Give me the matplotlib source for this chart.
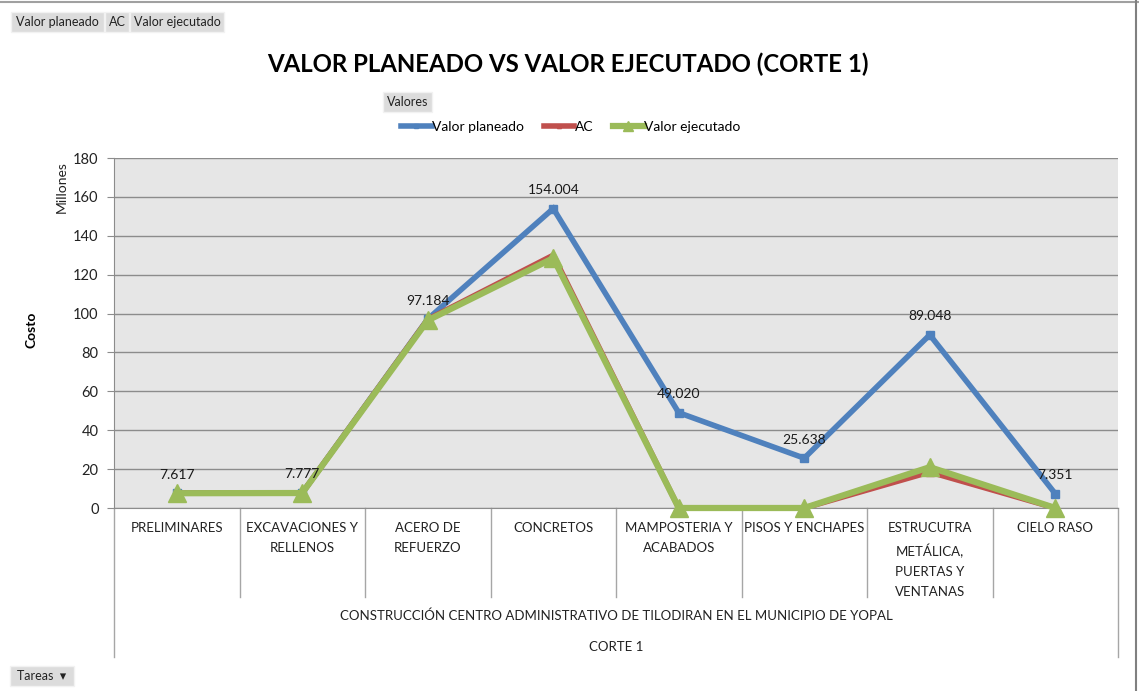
import matplotlib.pyplot as plt
from matplotlib.patches import Rectangle
from matplotlib.lines import Line2D

categorias = ["PRELIMINARES", "EXCAVACIONES Y\nRELLENOS", "ACERO DE\nREFUERZO", "CONCRETOS",
              "MAMPOSTERIA Y\nACABADOS", "PISOS Y ENCHAPES", "ESTRUCUTRA\nMETÁLICA,\nPUERTAS Y\nVENTANAS",
              "CIELO RASO"]
valor_planeado = [7.617, 7.777, 97.184, 154.004, 49.020, 25.638, 89.048, 7.351]
ac = [7.617, 7.777, 97.0, 130.0, 0.0, 0.0, 18.5, 0.0]
valor_ejecutado = [7.6, 7.7, 96.5, 128.5, 0.0, 0.0, 21.0, 0.0]
etiquetas = ["7.617", "7.777", "97.184", "154.004", "49.020", "25.638", "89.048", "7.351"]
yticks = list(range(0, 181, 20))

W, H = 1139, 691
plt.rcParams['font.family'] = ['Lato', 'DejaVu Sans']

fig = plt.figure(figsize=(W / 100, H / 100), dpi=100)
fig.patch.set_facecolor('white')


def fx(px):
    return px / W


def fy(py):
    return 1 - py / H


# plot area in pixels: x 114..1118, y 158..508
ax = fig.add_axes([fx(114), fy(508), fx(1118) - fx(114), fy(158) - fy(508)])
ax.set_facecolor('#E6E6E6')
x = list(range(len(categorias)))

ax.plot(x, valor_planeado, color='#4F81BD', lw=4, marker='s', ms=6, zorder=3,
        solid_joinstyle='miter', label='Valor planeado')
ax.plot(x, ac, color='#C0504D', lw=4, marker='^', ms=6, zorder=4, label='AC')
ax.plot(x, valor_ejecutado, color='#9BBB59', lw=4.5, marker='^', ms=13, zorder=5,
        label='Valor ejecutado', clip_on=False)

for xi, v, t in zip(x, valor_planeado, etiquetas):
    ax.annotate(t, (xi, v), xytext=(0, 9), textcoords='offset points', ha='center',
                va='bottom', fontsize=10, color='#1a1a1a', zorder=6)

ax.set_xlim(-0.5, len(categorias) - 0.5)
ax.set_ylim(0, 180)
ax.set_yticks(yticks)
ax.set_yticklabels([str(v) for v in yticks], fontsize=10.5, color='#222222')
ax.yaxis.grid(True, color='#8C8C8C', lw=1)
ax.set_axisbelow(True)
ax.set_xticks([])
ax.tick_params(axis='y', length=5, color='#8C8C8C', pad=6)
for s in ['top', 'right']:
    ax.spines[s].set_visible(False)
ax.spines['left'].set_color('#8C8C8C')
ax.spines['bottom'].set_color('#8C8C8C')

# category table below the axis
tr = ax.get_xaxis_transform()
y_div = (508 - 597) / 350
y_out = (508 - 657) / 350
for b in [i + 0.5 for i in range(len(categorias) - 1)]:
    ax.add_line(Line2D([b, b], [0, y_div], transform=tr, color='#A6A6A6', lw=1, clip_on=False))
for b in [-0.5, len(categorias) - 0.5]:
    ax.add_line(Line2D([b, b], [0, y_out], transform=tr, color='#A6A6A6', lw=1, clip_on=False))
for xi, c in zip(x, categorias):
    ax.text(xi, (508 - 522) / 350, c, transform=tr, ha='center', va='top', fontsize=9.5,
            linespacing=1.78, color='#222222')
ax.text(3.5, (508 - 616) / 350, "CONSTRUCCIÓN CENTRO ADMINISTRATIVO DE TILODIRAN EN EL MUNICIPIO DE YOPAL",
        transform=tr, ha='center', va='center', fontsize=9.5, color='#222222')
ax.text(3.5, (508 - 647) / 350, "CORTE 1", transform=tr, ha='center', va='center',
        fontsize=9.5, color='#222222')

# titles
fig.text(fx(568), fy(64), "VALOR PLANEADO VS VALOR EJECUTADO (CORTE 1)", ha='center', va='center',
         fontsize=17.3, fontweight='bold', color='black')
fig.text(fx(62), fy(187), "Millones", rotation=90, ha='center', va='center', fontsize=10, color='#222222')
fig.text(fx(31), fy(330), "Costo", rotation=90, ha='center', va='center', fontsize=10,
         fontweight='bold', color='black')

# legend
fig.legend(loc='center', bbox_to_anchor=(fx(571), fy(127)), ncol=3, frameon=False, fontsize=10,
           handlelength=2.2, handletextpad=0.05, columnspacing=1.4, markerscale=0.5)


# pivot buttons
def boton(x0, y0, x1, y1, texto):
    fig.patches.append(Rectangle((fx(x0), fy(y1)), fx(x1) - fx(x0), fy(y0) - fy(y1),
                                 transform=fig.transFigure, facecolor='#DCDCDC',
                                 edgecolor='#F2F2F2', lw=1))
    fig.text(fx((x0 + x1) / 2), fy((y0 + y1) / 2), texto, ha='center', va='center',
             fontsize=9, color='#222222')


boton(11, 12, 104, 32, "Valor planeado")
boton(105, 12, 129, 32, "AC")
boton(130, 12, 224, 32, "Valor ejecutado")
boton(383, 92, 432, 112, "Valores")
boton(10, 666, 74, 686, "Tareas  ▾")

# outer frame lines (top and right)
fig.add_artist(Line2D([0, 1], [fy(2), fy(2)], transform=fig.transFigure, color='#A0A0A0', lw=1.5))
fig.add_artist(Line2D([fx(1136), fx(1136)], [0, 1], transform=fig.transFigure, color='#808080', lw=1.5))

fig.savefig('out.png', dpi=100)
